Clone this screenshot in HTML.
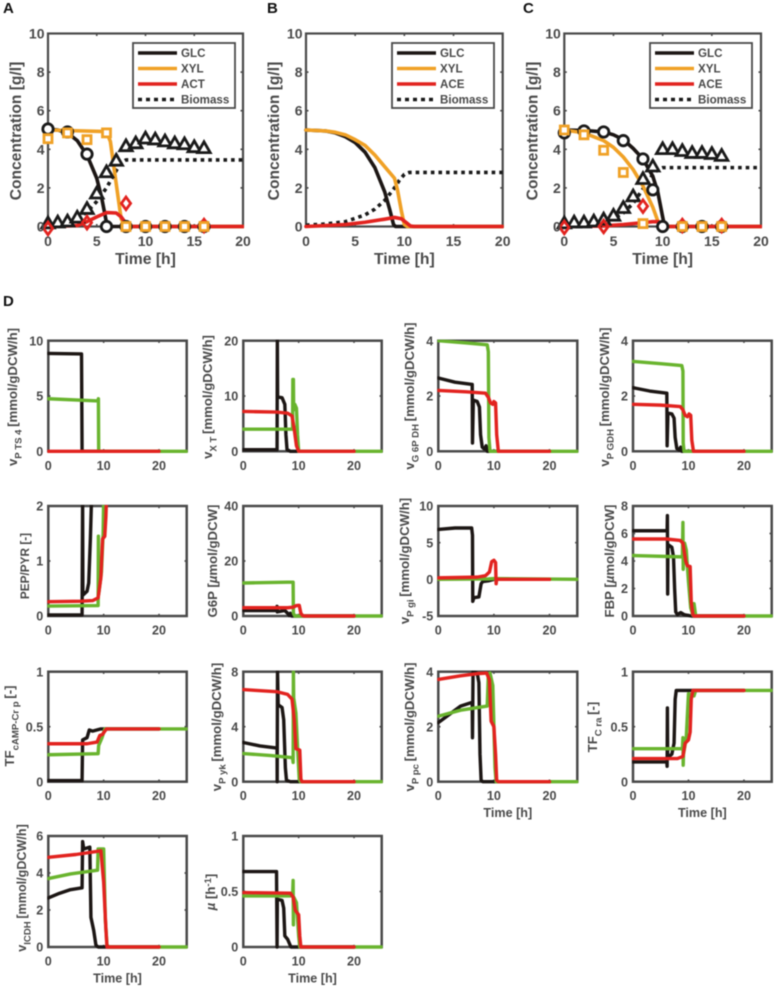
<!DOCTYPE html>
<html lang="en">
<head>
<meta charset="utf-8">
<title>Substrate concentrations and simulated fluxes</title>
<style>
html,body{margin:0;padding:0;background:#fff}
svg{display:block;font-family:"Liberation Sans",sans-serif;filter:blur(0.4px)}
</style>
</head>
<body>
<svg id="figure" width="777" height="988" viewBox="0 0 777 988" xmlns="http://www.w3.org/2000/svg">
<rect width="777" height="988" fill="#fff"/>
</svg>
<script>
/* ---------- Panel A values ---------- */
const aGlcLine=[[0,5.05],[1,5],[2,4.85],[3,4.45],[4,3.7],[5,2.5],[5.5,1.5],[6,0.2],[6.2,0],[20,0]];
const aXylLine=[[0,5],[6,4.92],[6.4,4.4],[7,2.2],[7.5,0.4],[8,0],[20,0]];
const aAceLine=[[0,0],[3,0.05],[4,0.25],[5,0.5],[6,0.72],[7,0.7],[7.5,0.5],[8,0.15],[8.5,0],[20,0]];
const aBioLine=[[0,0.1],[2,0.2],[3,0.4],[4,0.75],[5,1.3],[6,2],[7,2.9],[7.5,3.3],[8,3.45],[20,3.45]];
const aGlcData=[[0,5.05],[2,4.9],[4,3.75],[6,0],[8,0],[10,0],[12,0],[14,0],[16,0]];
const aXylData=[[0,4.55],[2,4.85],[4,4.5],[6,4.85],[8,0],[10,0],[12,0],[14,0],[16,0]];
const aAceData=[[0,-0.1],[4,0.2],[8,1.2],[16,0.05]];
const aBioData=[[0,0.15],[1,0.2],[2,0.25],[3,0.45],[4,0.9],[5,1.7],[6,2.8],[7,3.4],[8,4.15],[9,4.3],[10,4.55],[11,4.5],[12,4.4],[13,4.3],[14,4.25],[15,4.1],[16,4.05]];
/* ---------- Panel B values ---------- */
const bGlcLine=[[0,5],[2,4.95],[3,4.85],[4,4.65],[5,4.35],[6,3.85],[7,3.05],[8,1.8],[8.5,0.9],[8.9,0.1],[9.1,0],[20,0]];
const bXylLine=[[0,5],[2,4.95],[3,4.88],[4,4.75],[5,4.5],[6,4.2],[7,3.7],[8,3.1],[9,2.5],[9.3,1.9],[9.7,0.8],[10,0.1],[10.3,0],[20,0]];
const bAceLine=[[0,0],[4,0.1],[6,0.22],[8,0.38],[9,0.47],[9.7,0.4],[10.2,0.2],[10.6,0.03],[11,0],[20,0]];
const bBioLine=[[0,0.07],[2,0.13],[4,0.25],[6,0.6],[7,0.9],[8,1.35],[9,2],[9.5,2.4],[10,2.7],[10.5,2.8],[20,2.8]];
/* ---------- Panel C values ---------- */
const cGlcLine=[[0,5],[2,4.98],[4,4.9],[5,4.75],[6,4.5],[7,4.05],[8,3.5],[9,2.6],[9.5,1.8],[10,0.5],[10.2,0],[20,0]];
const cXylLine=[[0,5],[2,4.85],[4,4.45],[5,4.1],[6,3.6],[7,2.95],[8,2.1],[9,1],[9.5,0.3],[9.8,0],[20,0]];
const cAceLine=[[0,0],[4,0.03],[6,0.1],[8,0.2],[9,0.25],[9.6,0.25],[10,0.1],[10.5,0],[20,0]];
const cBioLine=[[0,0.05],[4,0.25],[5,0.4],[6,0.7],[7,1.2],[8,1.95],[9,2.7],[9.5,2.95],[10,3.05],[20,3.05]];
const cGlcData=[[0,4.85],[2,4.95],[4,4.9],[6,4.45],[8,3.5],[9,1.9],[10,0],[12,0],[14,0],[16,0]];
const cXylData=[[0,5],[2,4.75],[4,3.95],[6,2.8],[8,0.15],[12,0],[14,0],[16,0]];
const cAceData=[[0,-0.05],[4,0],[8,1.05],[12,0.05],[16,0.05]];
const cBioData=[[0,0.15],[1,0.2],[2,0.2],[3,0.25],[4,0.35],[5,0.55],[6,0.95],[7,1.55],[8,2.45],[9,3.1],[10,4],[11,4],[12,3.9],[13,3.8],[14,3.8],[15,3.75],[16,3.65]];
/* ---------- Panel D values ---------- */
const pts4Glc=[[0,8.85],[6,8.8],[6.1,0],[20,0]];
const pts4Xyl=[[0,4.75],[9,4.55],[9.05,4.75],[9.1,0],[25,0]];
const pts4Mix=[[0,0],[20,0]];
const xtGlc=[[0,0.3],[6.1,0.3],[6.15,20.5],[6.2,9.8],[7,9.7],[7.5,8.5],[7.7,3],[7.9,0.3],[8.5,0],[20,0]];
const xtXyl=[[0,4],[8.9,4],[8.95,13],[9.05,13],[9.1,7.5],[9.3,8.5],[9.6,7.8],[9.8,3],[10,0],[25,0]];
const xtMix=[[0,7.2],[6,7.1],[8,6.9],[8.8,6.4],[9.2,4],[9.6,1],[10,0],[20,0]];
const g6pdhGlc=[[0,2.65],[3,2.5],[6.1,2.42],[6.15,0.3],[6.3,1.85],[7,1.8],[7.4,1.6],[7.6,0.6],[7.9,0.15],[8.3,0.08],[8.6,0.2],[8.8,0],[20,0]];
const g6pdhXyl=[[0,4],[5,3.92],[8.8,3.85],[9,3.6],[9.1,0.5],[9.3,0],[25,0]];
const g6pdhMix=[[0,2.2],[5,2.15],[8.5,2.1],[9,1.95],[9.4,1.75],[9.8,1.7],[10,1.8],[10.3,1.75],[10.5,0.6],[10.8,0],[20,0]];
const pgdhGlc=[[0,2.3],[3,2.18],[6.1,2.1],[6.15,0.2],[6.3,1.38],[7,1.35],[7.4,1.2],[7.6,0.5],[7.9,0.1],[8.3,0.05],[8.6,0.15],[8.8,0],[20,0]];
const pgdhXyl=[[0,3.25],[5,3.17],[8.8,3.1],[9,2.9],[9.05,0.3],[9.2,0],[25,0]];
const pgdhMix=[[0,1.7],[5,1.67],[8.5,1.62],[9,1.5],[9.4,1.3],[9.8,1.25],[10.1,1.35],[10.4,1.3],[10.6,0.4],[10.9,0],[20,0]];
const pepGlc=[[0,0.02],[6.1,0.02],[6.2,2.1],[6.25,0.38],[7,0.45],[7.3,0.6],[7.6,1.4],[7.8,2.1]];
const pepXyl=[[0,0.18],[9,0.19],[9.05,1.45],[9.1,0.4],[9.6,0.8],[9.9,1.5],[10,2.1]];
const pepMix=[[0,0.26],[6,0.27],[8,0.28],[9,0.33],[9.5,0.7],[9.8,1.4],[10.2,1.45],[10.4,1.8],[10.5,2.1]];
const g6pGlc=[[0,2],[6,2],[6.1,3.5],[6.15,1.5],[7.5,2],[8,1],[8.3,0.2],[8.5,1],[8.7,0],[20,0]];
const g6pXyl=[[0,12],[8,12.3],[9,12.3],[9.05,1],[9.3,0],[25,0]];
const g6pMix=[[0,3],[8,3],[9,3.2],[9.6,3.8],[10.1,3.9],[10.4,1],[10.7,0.2],[11,0],[20,0]];
const pgiGlc=[[0,6.8],[3,7],[6,7],[6.15,6],[6.2,-3],[6.4,-2.5],[7.3,-2.4],[7.7,-0.6],[8,-0.3],[9,-0.2],[10,0],[20,0]];
const pgiXyl=[[0,0],[9,0.05],[10,0.1],[25,0]];
const pgiMix=[[0,0.2],[7,0.3],[8.5,0.5],[9.2,1],[9.6,2.4],[10,2.6],[10.3,2.3],[10.4,-0.6],[10.5,0],[20,0]];
const fbpGlc=[[0,6.2],[6.15,6.2],[6.2,7.3],[6.25,1.6],[6.3,5.2],[7,5],[7.3,4.3],[7.5,2],[7.7,0.3],[8,0.1],[8.6,0.25],[9.2,0.1],[10.5,0],[20,0]];
const fbpXyl=[[0,4.4],[8.9,4.3],[9,6.8],[9.05,3.4],[9.3,5.3],[9.6,4.8],[10,2.5],[10.4,0.6],[10.8,0.05],[11,0.9],[11.3,0],[25,0]];
const fbpMix=[[0,5.6],[6,5.6],[8.5,5.5],[9,5.3],[9.5,4],[9.8,3.65],[10.3,3.6],[10.5,1],[10.8,0.1],[11,0],[20,0]];
const campGlc=[[0,0.01],[6.1,0.01],[6.2,0.38],[7,0.4],[7.4,0.47],[8,0.46],[9.5,0.48],[20,0.48]];
const campXyl=[[0,0.245],[9,0.255],[9.1,0.33],[9.7,0.4],[10.2,0.48],[25,0.48]];
const campMix=[[0,0.345],[7,0.345],[8.8,0.36],[9.3,0.42],[9.8,0.43],[10.5,0.48],[20,0.48]];
const pykGlc=[[0,2.85],[3,2.6],[6.1,2.45],[6.12,0],[6.18,8.1],[6.3,5.6],[7,5.4],[7.3,4.5],[7.6,1],[7.8,0.1],[8.5,0],[20,0]];
const pykXyl=[[0,2.05],[5,1.9],[8.9,1.75],[9,1.4],[9.05,8.1],[9.1,6.1],[9.5,5],[9.8,2.5],[10.1,0.2],[10.3,0],[25,0]];
const pykMix=[[0,6.7],[6,6.55],[8,6.35],[8.8,6],[9.2,4.5],[9.5,2.4],[10.2,2.3],[10.4,0.2],[10.6,0],[20,0]];
const ppcGlc=[[0,2.15],[2,2.45],[4,2.75],[6,2.88],[6.1,2.85],[6.15,1.6],[6.25,4],[7,3.95],[7.3,3.6],[7.5,1],[7.7,0.05],[8,0],[20,0]];
const ppcXyl=[[0,2.38],[4,2.6],[8.8,2.75],[9,3.9],[9.3,3.95],[9.8,3.5],[10,2],[10.2,0.5],[10.4,0],[25,0]];
const ppcMix=[[0,3.72],[4,3.85],[7,3.93],[8.7,3.95],[9.2,3.7],[9.5,2.2],[10,2],[10.3,1],[10.5,0.05],[10.8,0],[20,0]];
const craGlc=[[0,0.18],[6.1,0.18],[6.15,0.14],[6.2,0.67],[6.25,0.22],[7,0.25],[7.4,0.35],[7.6,0.75],[7.8,0.83],[20,0.83]];
const craXyl=[[0,0.3],[8.9,0.3],[9,0.4],[9.05,0.15],[9.1,0.25],[9.6,0.4],[10,0.8],[11,0.78],[11.3,0.83],[25,0.83]];
const craMix=[[0,0.21],[8,0.21],[9,0.23],[9.4,0.35],[10,0.38],[10.3,0.45],[10.5,0.75],[10.8,0.83],[20,0.83]];
const icdhGlc=[[0,2.65],[2,2.9],[4,3.1],[6.1,3.2],[6.2,5.7],[6.4,5.3],[7.5,5.4],[7.7,1.6],[8.2,0.9],[8.6,0.1],[9,0],[20,0]];
const icdhXyl=[[0,3.7],[4,3.95],[8.9,4.15],[9,5.3],[10,5.3],[10.3,1.5],[10.6,0.1],[11,0],[25,0]];
const icdhMix=[[0,4.85],[5,5],[9.5,5.2],[10,3.5],[10.4,1],[10.6,0],[20,0]];
const muGlc=[[0,0.68],[6,0.68],[6.1,0],[6.15,0.43],[7,0.42],[7.3,0.35],[7.5,0.1],[8,0.07],[8.6,0],[20,0]];
const muXyl=[[0,0.46],[8.9,0.46],[9,0.6],[9.05,0.2],[9.1,0.45],[9.6,0.4],[10,0.1],[10.2,0],[25,0]];
const muMix=[[0,0.49],[8.5,0.485],[9,0.45],[9.4,0.33],[10,0.29],[10.2,0.1],[10.4,0],[20,0]];
/* ---------- Tick labels ---------- */
const topXTicks=[0,5,10,15,20];
const topYTicks=[0,2,4,6,8,10];
const lowerXTicks=[0,10,20];
const pts4Ticks=[0,5,10];
const xtTicks=[0,10,20];
const g6pdhTicks=[0,2,4];
const pgdhTicks=[0,2,4];
const pepTicks=[0,1,2];
const g6pTicks=[0,20,40];
const pgiTicks=[-5,0,5,10];
const fbpTicks=[0,2,4,6,8];
const campTicks=[0,0.5,1];
const pykTicks=[0,4,8];
const ppcTicks=[0,2,4];
const craTicks=[0,0.5,1];
const icdhTicks=[0,2,4,6];
const muTicks=[0,0.5,1];

const INK='#4a4a4a',BLACK='#1c1614',ORANGE='#f0a126',RED='#e2231f',GREEN='#69b42e',DARK='#1a1a1a';
const svg=document.getElementById('figure');
const NS='http://www.w3.org/2000/svg';

function make(tag,parent,attrs){
  const el=document.createElementNS(NS,tag);
  for(const k in attrs) el.setAttribute(k,attrs[k]);
  parent.appendChild(el);
  return el;
}
function named(el,name,interactive){
  
  
  return el;
}
function lineThrough(parent,pts,sx,sy,color,width,name,dash){
  const d=pts.map((p,i)=>(i?'L':'M')+sx(p[0]).toFixed(2)+' '+sy(p[1]).toFixed(2)).join('');
  const attrs={d:d,fill:'none',stroke:color,'stroke-width':width,'stroke-linejoin':'round','stroke-linecap':dash?'butt':'round'};
  if(dash) attrs['stroke-dasharray']=dash;
  const el=make('path',parent,attrs);
  named(el,name,false);
  return el;
}
function marker(parent,kind,x,y,color,name){
  let el;
  const base={fill:'#fff',stroke:color,'stroke-width':2.8,'stroke-linejoin':'miter'};
  if(kind==='circle'){
    el=make('circle',parent,Object.assign({cx:x,cy:y,r:5.2},base));
  }else if(kind==='square'){
    el=make('rect',parent,Object.assign({x:x-4,y:y-4,width:8,height:8},base));
  }else if(kind==='triangle'){
    el=make('path',parent,Object.assign({d:`M${x} ${y-6.5}L${x+6.2} ${y+4.3}L${x-6.2} ${y+4.3}Z`},base));
  }else{
    el=make('path',parent,Object.assign({d:`M${x} ${y-6.3}L${x+4.6} ${y}L${x} ${y+6.3}L${x-4.6} ${y}Z`},base));
    el.setAttribute('fill','none');
  }
  named(el,name,false);
}
function frame(parent,box,xTicks,yTicks,sx,sy,lw,tick){
  xTicks.forEach(v=>{
    named(make('line',parent,{x1:sx(v),x2:sx(v),y1:box.b,y2:box.b-tick,stroke:INK,'stroke-width':1.6}),'x-tick-bottom',false);
    named(make('line',parent,{x1:sx(v),x2:sx(v),y1:box.t,y2:box.t+tick,stroke:INK,'stroke-width':1.6}),'x-tick-top',false);
  });
  yTicks.forEach(v=>{
    named(make('line',parent,{x1:box.l,x2:box.l+tick,y1:sy(v),y2:sy(v),stroke:INK,'stroke-width':1.6}),'y-tick-left',false);
    named(make('line',parent,{x1:box.r,x2:box.r-tick,y1:sy(v),y2:sy(v),stroke:INK,'stroke-width':1.6}),'y-tick-right',false);
  });
  named(make('rect',parent,{x:box.l,y:box.t,width:box.r-box.l,height:box.b-box.t,fill:'none',stroke:INK,'stroke-width':lw}),'plot-frame',false);
}
function label(parent,str,x,y,size,anchor,name){
  const t=make('text',parent,{x:x,y:y,'font-size':size,'font-weight':'bold',fill:INK,'text-anchor':anchor});
  t.textContent=str;
  named(t,name,false);
  return t;
}
function rotatedLabel(parent,parts,x,y,size,name){
  const t=make('text',parent,{x:x,y:y,'font-size':size,'font-weight':'bold',fill:INK,'text-anchor':'middle',transform:`rotate(-90 ${x} ${y})`,'xml:space':'preserve'});
  named(t,name,false);
  let shift=0;
  parts.forEach(p=>{
    const s=make('tspan',t,{});
    const off=p.off||0;
    s.setAttribute('dy',off-shift);
    shift=off;
    if(p.italic) s.setAttribute('font-style','italic');
    if(p.size) s.setAttribute('font-size',p.size);
    s.textContent=p.text;
  });
  return t;
}

/* ---------- Top row ---------- */
const topPanels=[
 {id:'a',tag:'A',tagX:3,l:48,r:243,legL:133,third:'ACT',lines:[aGlcLine,aXylLine,aAceLine,aBioLine],
  circles:aGlcData,squares:aXylData,diamonds:aAceData,triangles:aBioData},
 {id:'b',tag:'B',tagX:267,l:306,r:502.7,legL:392,third:'ACE',lines:[bGlcLine,bXylLine,bAceLine,bBioLine]},
 {id:'c',tag:'C',tagX:523,l:564.3,r:761,legL:650,third:'ACE',lines:[cGlcLine,cXylLine,cAceLine,cBioLine],
  circles:cGlcData,squares:cXylData,diamonds:cAceData,triangles:cBioData}
];
topPanels.forEach(P=>{
  const g=named(make('g',svg,{}),'panel-'+P.id,false);
  const box={l:P.l,r:P.r,t:33.5,b:226.5};
  const sx=v=>box.l+(box.r-box.l)*v/20;
  const sy=v=>box.b-(box.b-box.t)*v/10;
  const tag=label(g,P.tag,P.tagX,13,15,'start','panel-letter');
  tag.setAttribute('fill','#111');
  const clipId='clip-top-'+P.id;
  const cp=make('clipPath',g,{id:clipId});
  make('rect',cp,{x:box.l-2,y:box.t-1,width:box.r-box.l+3,height:box.b-box.t+4});
  frame(g,box,topXTicks,topYTicks,sx,sy,2.2,2.5);
  const lg=make('g',g,{'clip-path':`url(#${clipId})`});
  named(lg,'series-lines',false);
  lineThrough(lg,P.lines[3],sx,sy,DARK,3.6,'biomass-line','3.6 4');
  lineThrough(lg,P.lines[0],sx,sy,BLACK,3.6,'glc-line');
  lineThrough(lg,P.lines[1],sx,sy,ORANGE,3.6,'xyl-line');
  lineThrough(lg,P.lines[2],sx,sy,RED,3.6,'ace-line');
  if(P.triangles){
    P.triangles.forEach(p=>marker(g,'triangle',sx(p[0]),sy(p[1]),DARK,'biomass-measurement'));
    P.circles.forEach(p=>marker(g,'circle',sx(p[0]),sy(p[1]),DARK,'glc-measurement'));
    P.diamonds.forEach(p=>marker(g,'diamond',sx(p[0]),sy(p[1]),RED,'ace-measurement'));
    P.squares.forEach(p=>marker(g,'square',sx(p[0]),sy(p[1]),ORANGE,'xyl-measurement'));
  }
  topXTicks.forEach(v=>label(g,String(v),sx(v),246,14,'middle','x-tick-label'));
  topYTicks.forEach(v=>label(g,String(v),box.l-3.5,sy(v)+5,14,'end','y-tick-label'));
  label(g,'Time [h]',(box.l+box.r)/2,264,15.7,'middle','x-axis-title');
  rotatedLabel(g,[{text:'Concentration [g/l]'}],box.l-27,131,15.6,'y-axis-title');
  const lgd=named(make('g',g,{}),'legend',false);
  named(make('rect',lgd,{x:P.legL,y:43,width:102,height:65,fill:'#fff',stroke:INK,'stroke-width':1.8}),'legend-box',false);
  [['GLC',BLACK,null,53],['XYL',ORANGE,null,68.5],[P.third,RED,null,84],['Biomass',DARK,'4 4',99.5]].forEach(e=>{
    const ln=make('line',lgd,{x1:P.legL+5,x2:P.legL+44,y1:e[3],y2:e[3],stroke:e[1],'stroke-width':3.6});
    if(e[2]) ln.setAttribute('stroke-dasharray',e[2]);
    named(ln,'legend-line-'+e[0].toLowerCase(),false);
    label(lgd,e[0],P.legL+48,e[3]+4.2,11.6,'start','legend-label-'+e[0].toLowerCase());
  });
});
named(label(svg,'D',3,306,15,'start','panel-letter'),'panel-letter',false).setAttribute('fill','#111');

/* ---------- Lower grid ---------- */
const colLeft=[48.3,243.3,438.3,633];
const colRight=[186.7,381.7,577.3,771.7];
const rowTop=[340.7,506,671.7,836];
const rowBottom=[451.3,616,781.7,947];
const SUB=9.6, SUBOFF=4.5, LABEL=13.2;
const lowerPanels=[
 {id:'pts4',g:pts4Glc,x:pts4Xyl,m:pts4Mix,ticks:pts4Ticks,lx:17,ly:397,parts:[{text:'v'},{text:'P TS 4 ',off:SUBOFF,size:SUB},{text:'[mmol/gDCW/h]'}]},
 {id:'xt',g:xtGlc,x:xtXyl,m:xtMix,ticks:xtTicks,lx:212,ly:397,parts:[{text:'v'},{text:'X T ',off:SUBOFF,size:SUB},{text:'[mmol/gDCW/h]'}]},
 {id:'g6pdh',g:g6pdhGlc,x:g6pdhXyl,m:g6pdhMix,ticks:g6pdhTicks,lx:414,ly:396,parts:[{text:'v'},{text:'G 6P DH ',off:SUBOFF,size:SUB},{text:'[mmol/gDCW/h]'}]},
 {id:'pgdh',g:pgdhGlc,x:pgdhXyl,m:pgdhMix,ticks:pgdhTicks,lx:609,ly:397,parts:[{text:'v'},{text:'P GDH ',off:SUBOFF,size:SUB},{text:'[mmol/gDCW/h]'}]},
 {id:'pep-pyr',g:pepGlc,x:pepXyl,m:pepMix,ticks:pepTicks,lx:29,ly:566,size:11.8,parts:[{text:'PEP/PYR [-]'}]},
 {id:'g6p',g:g6pGlc,x:g6pXyl,m:g6pMix,ticks:g6pTicks,lx:217,ly:561,parts:[{text:'G6P ['},{text:'\u00b5',italic:true},{text:'mol/gDCW]'}]},
 {id:'pgi',g:pgiGlc,x:pgiXyl,m:pgiMix,ticks:pgiTicks,lx:409,ly:561,parts:[{text:'v'},{text:'P gi ',off:SUBOFF,size:SUB},{text:'[mmol/gDCW/h]'}]},
 {id:'fbp',g:fbpGlc,x:fbpXyl,m:fbpMix,ticks:fbpTicks,lx:614,ly:561,parts:[{text:'FBP ['},{text:'\u00b5',italic:true},{text:'mol/gDCW]'}]},
 {id:'tf-camp',g:campGlc,x:campXyl,m:campMix,ticks:campTicks,lx:14,ly:726,parts:[{text:'TF'},{text:'cAMP-Cr p ',off:SUBOFF,size:SUB},{text:'[-]'}]},
 {id:'pyk',g:pykGlc,x:pykXyl,m:pykMix,ticks:pykTicks,lx:221,ly:727,parts:[{text:'v'},{text:'P yk ',off:SUBOFF,size:SUB},{text:'[mmol/gDCW/h]'}]},
 {id:'ppc',g:ppcGlc,x:ppcXyl,m:ppcMix,ticks:ppcTicks,lx:414,ly:727,time:true,parts:[{text:'v'},{text:'P pc ',off:SUBOFF,size:SUB},{text:'[mmol/gDCW/h]'}]},
 {id:'tf-cra',g:craGlc,x:craXyl,m:craMix,ticks:craTicks,lx:597,ly:727,time:true,parts:[{text:'TF'},{text:'C ra ',off:SUBOFF,size:SUB},{text:'[-]'}]},
 {id:'icdh',g:icdhGlc,x:icdhXyl,m:icdhMix,ticks:icdhTicks,lx:26,ly:888,time:true,size:12.6,parts:[{text:'v'},{text:'ICDH ',off:SUBOFF,size:SUB},{text:'[mmol/gDCW/h]'}]},
 {id:'mu',g:muGlc,x:muXyl,m:muMix,ticks:muTicks,lx:215,ly:892,time:true,parts:[{text:'\u00b5',italic:true},{text:' [h'},{text:'-1',off:-4,size:SUB},{text:']'}]}
];
lowerPanels.forEach((P,i)=>{
  const col=i%4,row=Math.floor(i/4);
  const box={l:colLeft[col],r:colRight[col],t:rowTop[row],b:rowBottom[row]};
  const g=named(make('g',svg,{}),'panel-'+P.id,false);
  const lo=P.ticks[0],hi=P.ticks[P.ticks.length-1];
  const sx=v=>box.l+(box.r-box.l)*v/25;
  const sy=v=>box.b-(box.b-box.t)*(v-lo)/(hi-lo);
  const clipId='clip-low-'+P.id;
  const cp=make('clipPath',g,{id:clipId});
  make('rect',cp,{x:box.l-1,y:box.t-1,width:box.r-box.l+2,height:box.b-box.t+4});
  frame(g,box,lowerXTicks,P.ticks,sx,sy,2.5,2.2);
  const lg=make('g',g,{'clip-path':`url(#${clipId})`});
  named(lg,'series-lines',false);
  lineThrough(lg,P.g,sx,sy,BLACK,3.4,'glucose-line');
  lineThrough(lg,P.x,sx,sy,GREEN,3.4,'xylose-line');
  lineThrough(lg,P.m,sx,sy,RED,3.4,'mixture-line');
  lowerXTicks.forEach(v=>label(g,String(v),sx(v),box.b+18.5,12.6,'middle','x-tick-label'));
  P.ticks.forEach(v=>label(g,String(v),box.l-5,sy(v)+4.6,12.6,'end','y-tick-label'));
  rotatedLabel(g,P.parts,P.lx,P.ly,P.size||LABEL,'y-axis-title');
  if(P.time) label(g,'Time [h]',(box.l+box.r)/2,box.b+35.5,12.6,'middle','x-axis-title');
});
</script>
</body>
</html>
